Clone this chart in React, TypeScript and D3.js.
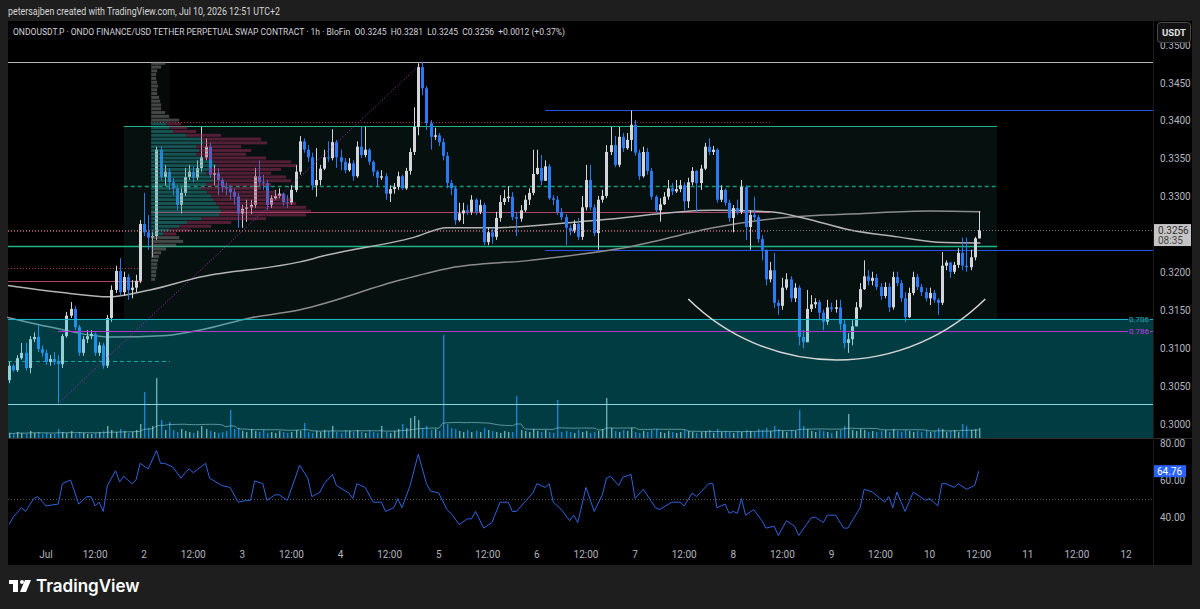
import React from 'react';
import * as d3 from 'd3';

const W = 1200, H = 609;
// candles: hourly, first candle = Jun 30 15:00 (hour -9 relative to Jul 1 00:00)
const START_HOUR = -9;
const firstOpen = 0.3058;
const closes = [
  .3077,.3071,.3087,.3094,.3074,.3112,.3115,.3099,.3094,
  .3082,.3086,.3082,.3079,.3116,.3143,.3152,.3128,.3094,.3112,
  .3116,.3119,.3094,.3104,.3077,.3140,.3177,.3202,.3174,.3194,
  .3177,.3180,.3189,.3264,.3253,.3246,.3248,.3362,.3326,.3333,
  .3319,.3311,.3289,.3305,.3326,.3333,.3325,.3338,.3352,.3366,
  .3329,.3331,.3322,.3313,.3311,.3306,.3300,.3278,.3284,.3286,
  .3289,.3327,.3319,.3318,.3289,.3298,.3301,.3304,.3293,.3292,
  .3309,.3333,.3373,.3362,.3352,.3315,.3322,.3337,.3352,.3351,
  .3372,.3352,.3346,.3335,.3344,.3327,.3366,.3355,.3362,.3346,
  .3333,.3325,.3327,.3304,.3310,.3313,.3327,.3311,.3334,.3359,
  .3392,.3471,.3443,.3397,.3379,.3381,.3372,.3354,.3318,.3311,
  .3269,.3278,.3282,.3280,.3296,.3280,.3289,.3240,.3253,.3247,
  .3272,.3293,.3298,.3300,.3273,.3271,.3282,.3296,.3305,.3330,
  .3338,.3321,.3340,.3298,.3296,.3280,.3273,.3259,.3255,.3264,
  .3247,.3286,.3322,.3286,.3252,.3296,.3301,.3359,.3368,.3342,
  .3379,.3364,.3375,.3395,.3358,.3327,.3359,.3334,.3300,.3282,
  .3290,.3300,.3311,.3307,.3310,.3315,.3294,.3319,.3334,.3318,
  .3337,.3366,.3359,.3362,.3296,.3309,.3292,.3272,.3285,.3280,
  .3313,.3260,.3276,.3273,.3244,.3230,.3191,.3203,.3160,.3156,
  .3180,.3191,.3166,.3180,.3115,.3108,.3152,.3158,.3161,.3147,
  .3135,.3154,.3152,.3154,.3132,.3107,.3112,.3129,.3154,.3178,
  .3195,.3189,.3193,.3181,.3169,.3181,.3154,.3194,.3186,.3166,
  .3141,.3173,.3194,.3181,.3174,.3166,.3173,.3164,.3160,.3209,
  .3213,.3201,.3210,.3226,.3209,.3207,.3220,.3245,.3256
];
const highs = [
  .3082,.3079,.3091,.3107,.3107,.3116,.3121,.3131,.3104,
  .3098,.3091,.3095,.3091,.3119,.3148,.3161,.3156,.3131,.3116,
  .3124,.3124,.3121,.3108,.3107,.3144,.3183,.3209,.3219,.3201,
  .3198,.3190,.3197,.3269,.3305,.3276,.3253,.3366,.3366,.3342,
  .3338,.3325,.3315,.3311,.3338,.3342,.3340,.3348,.3392,.3377,
  .3371,.3342,.3338,.3325,.3319,.3315,.3311,.3305,.3289,.3296,
  .3296,.3338,.3348,.3329,.3322,.3302,.3309,.3311,.3305,.3302,
  .3315,.3342,.3380,.3377,.3368,.3358,.3364,.3342,.3362,.3373,
  .3389,.3375,.3362,.3351,.3351,.3348,.3373,.3392,.3392,.3364,
  .3348,.3335,.3335,.3331,.3315,.3318,.3333,.3329,.3338,.3364,
  .3418,.3476,.3478,.3446,.3401,.3391,.3384,.3377,.3359,.3322,
  .3314,.3292,.3292,.3289,.3302,.3298,.3296,.3292,.3259,.3259,
  .3280,.3302,.3309,.3314,.3306,.3280,.3289,.3302,.3311,.3362,
  .3362,.3355,.3348,.3343,.3302,.3301,.3285,.3277,.3263,.3269,
  .3272,.3301,.3342,.3342,.3290,.3301,.3309,.3368,.3392,.3380,
  .3392,.3384,.3384,.3414,.3401,.3362,.3366,.3364,.3338,.3302,
  .3298,.3306,.3322,.3318,.3322,.3322,.3319,.3325,.3339,.3335,
  .3342,.3371,.3377,.3367,.3364,.3315,.3311,.3296,.3289,.3296,
  .3322,.3315,.3282,.3300,.3276,.3249,.3230,.3214,.3226,.3164,
  .3193,.3199,.3195,.3186,.3183,.3124,.3177,.3170,.3166,.3164,
  .3151,.3164,.3160,.3164,.3164,.3137,.3120,.3137,.3161,.3186,
  .3216,.3203,.3201,.3198,.3186,.3187,.3186,.3201,.3201,.3190,
  .3174,.3180,.3201,.3198,.3185,.3180,.3180,.3177,.3166,.3227,
  .3216,.3214,.3214,.3232,.3246,.3246,.3230,.3247,.3281
];
const lows = [
  .3054,.3069,.3069,.3085,.3071,.3067,.3108,.3095,.3089,
  .3078,.3077,.3078,.3027,.3074,.3114,.3140,.3124,.3090,.3090,
  .3107,.3112,.3090,.3090,.3073,.3074,.3135,.3173,.3170,.3169,
  .3164,.3166,.3174,.3186,.3248,.3230,.3220,.3243,.3322,.3314,
  .3309,.3302,.3282,.3278,.3301,.3322,.3319,.3322,.3333,.3348,
  .3325,.3315,.3302,.3306,.3302,.3296,.3289,.3259,.3259,.3267,
  .3277,.3285,.3314,.3309,.3282,.3285,.3296,.3298,.3288,.3285,
  .3289,.3306,.3329,.3358,.3346,.3309,.3300,.3315,.3335,.3346,
  .3348,.3338,.3335,.3331,.3333,.3321,.3325,.3351,.3352,.3342,
  .3327,.3314,.3322,.3296,.3293,.3304,.3309,.3309,.3309,.3329,
  .3355,.3381,.3434,.3388,.3362,.3375,.3367,.3348,.3311,.3302,
  .3263,.3267,.3264,.3276,.3276,.3276,.3277,.3236,.3236,.3238,
  .3243,.3267,.3289,.3293,.3269,.3248,.3267,.3280,.3289,.3302,
  .3329,.3315,.3322,.3296,.3289,.3276,.3269,.3236,.3249,.3252,
  .3243,.3243,.3282,.3282,.3248,.3230,.3292,.3298,.3355,.3339,
  .3339,.3359,.3362,.3360,.3354,.3322,.3325,.3329,.3296,.3278,
  .3267,.3289,.3296,.3302,.3305,.3306,.3282,.3285,.3315,.3280,
  .3309,.3335,.3355,.3355,.3292,.3293,.3288,.3267,.3253,.3276,
  .3277,.3243,.3230,.3269,.3239,.3216,.3183,.3187,.3153,.3144,
  .3151,.3177,.3161,.3161,.3104,.3100,.3108,.3148,.3153,.3137,
  .3124,.3131,.3148,.3147,.3124,.3100,.3094,.3104,.3131,.3151,
  .3177,.3183,.3183,.3177,.3164,.3166,.3148,.3151,.3182,.3161,
  .3135,.3140,.3170,.3177,.3169,.3162,.3157,.3160,.3144,.3157,
  .3203,.3193,.3198,.3206,.3203,.3201,.3203,.3216,.3245
];
const volumes = [
  5,4,6,5,4,7,5,6,4,
  5,4,4,9,6,5,7,4,6,5,
  4,4,5,6,7,12,8,6,9,7,
  5,6,8,14,46,10,12,60,18,8,
  16,8,6,9,7,6,5,7,12,9,
  7,6,5,6,7,28,9,10,7,6,
  9,7,6,8,5,6,5,7,6,5,
  6,8,7,15,6,5,7,6,8,7,
  12,6,5,8,7,6,8,6,5,7,
  6,5,12,6,5,7,9,14,10,20,
  22,18,10,12,8,9,7,103,14,10,
  9,7,6,8,6,7,6,10,8,7,
  6,5,7,6,6,42,8,7,6,9,
  7,6,8,6,5,38,6,7,6,5,
  8,6,7,5,6,7,9,40,10,7,
  6,8,7,10,6,5,7,6,8,9,
  6,5,7,6,5,6,8,7,6,5,
  6,7,8,5,9,6,7,6,5,7,
  6,8,7,6,9,8,10,7,12,9,
  7,6,8,7,28,12,9,7,6,8,
  7,6,5,7,8,12,24,8,7,9,
  8,6,7,6,7,8,6,9,7,6,
  8,7,6,7,6,8,6,7,10,9,
  6,7,8,6,14,12,8,9,10
];
const rsiPoints: [number, number][] = [
  [-9,36],[-8,40],[-6,45],[-5,43],[-3,50],[-2,51],[0,46],[3,47],[4,58],[6,60],[8,47],[10,51],[11,51],[12,46],[13,48],[14,43],[15,57],[17,65],[18,59],[19,62],[21,58],[22,60],[23,69],[25,66],[27,76],[28,69],[29,69],[31,67],[33,61],[34,64],[35,66],[36,64],[39,69],[40,61],[43,57],[45,56],[47,48],[49,49],[50,49],[51,59.5],[53,58],[54,49],[56,52],[57,52],[59,49],[62,68],[64,61],[65,51],[67,53.5],[68,58],[70,63],[71,57],[74,53],[75,50],[76,58],[78,56],[80,48],[82,48],[83,43],[85,45],[86,50],[87,45],[89,57],[91,74],[93,58],[94,54],[96,53],[98,44],[99,42],[101,36],[103,39],[104,39],[105,43],[107,34],[109,37],[111,48],[113,48],[114,43],[115,43],[117,48],[119,53],[120,58],[122,56],[123,58],[124,48],[126,44],[128,38],[129,41],[130,37],[132,56],[134,43],[136,52],[137,61],[138,62],[140,57],[141,61.5],[143,63],[144,50],[146,55],[149,45],[150,44],[153,48],[155,48],[156,46],[158,53],[159,51],[162,58],[163,58],[164,45],[166,47],[167,42],[168,43],[169,42],[170,50],[171,41],[173,44],[175,38],[176,34],[178,35],[179,30],[181,38],[183,35],[184,30],[187,39.5],[188,40],[190,37],[191,41],[193,41],[195,34],[196,34],[199,45],[200,55],[202,53.5],[205,48],[206,51],[207,45],[208,53.5],[210,43],[212,53.5],[215,49],[216,50],[218,46],[219,58],[220,58],[222,56],[223,58],[225,55],[227,57],[228,64.76]
];
const fastMA: [number, number][] = [
  [-9.3,.3183],[3.4,.3174],[15.6,.3168],[25.4,.3177],[37.7,.3194],[62.1,.3214],[68.7,.3223],[89.7,.3246],[98,.3259],[108.6,.3259],[134.7,.3269],[163.1,.3282],[177,.3280],[185.1,.3272],[196.6,.3256],[208.1,.3247],[217.8,.3240],[228.4,.3239]
];
const slowMA: [number, number][] = [
  [-9.5,.3141],[1,.3128],[15.6,.3115],[29.6,.3117],[37.7,.3124],[49.9,.3140],[62.1,.3151],[86.6,.3190],[98.8,.3206],[118.3,.3216],[142.8,.3234],[163.1,.3259],[179.5,.3272],[199.8,.3278],[216.1,.3281],[228.4,.3280]
];
// volume profile: rows of 0.0005 from 0.3478 downwards
const profileTopPrice = 0.3478;
const profileStep = 0.0005;
const profileStartHour = 25.7;
const profileTotal = [14,10,6,5,5,6,7,6,6,8,9,10,10,14,18,28,
  30,36,45,70,110,116,90,100,95,115,140,145,130,120,135,140,120,110,125,135,140,145,155,160,155,115,80,60,40,25,
  28,32,25,15,10,8,7,6,6,5,5,4];
const profileUp = [0,0,0,0,0,0,0,0,0,0,0,0,0,0,0,0,
  15,18,22,35,50,52,45,48,45,52,62,65,58,55,60,62,55,50,56,60,62,65,68,70,68,50,36,28,18,12,
  0,0,0,0,0,0,0,0,0,0,0,0];
const vaFirst = 16, vaLast = 45;

const priceTicks = [0.300,0.305,0.310,0.315,0.320,0.325,0.330,0.335,0.340,0.345,0.350];
const timeTickHours = [0,12,24,36,48,60,72,84,96,108,120,132,144,156,168,180,192,204,216,228,240,252,264];
const timeTickLabels = ['Jul','12:00','2','12:00','3','12:00','4','12:00','5','12:00','6','12:00','7','12:00','8','12:00','9','12:00','10','12:00','11','12:00','12'];
const rsiTicks = [40, 60, 80];

// levels
const topLine = 0.3478;
const blueUpper = 0.3414, blueLower = 0.3230, blueStart = 122;
const greenUpper = 0.3393, greenLower = 0.3235, greenMid = 0.3314, greenStart = 19, greenEnd = 232.5;
const redTopDotted = 0.3399, pocLevel = 0.3280, redVal = 0.3255, profEnd = 177;
const leftRedDotted = 0.3206, leftRedSolid = 0.3189, leftEnd = 23.5;
const leftGreenDashed = 0.3083, leftGreenEnd = 30.3;
const fib706 = 0.3139, fib786 = 0.3123, fib1 = 0.3027, fibStart = 2.9;
const diagFrom: [number, number] = [2.9, 0.3027], diagTo: [number, number] = [92.2, 0.3478];
const arcLeft: [number, number] = [157, 0.3165], arcBottom: [number, number] = [193.2, 0.30846], arcRight: [number, number] = [229.6, 0.3165];
const lastPrice = 0.3256, lastRsi = 64.76;

const UP = '#d2d5d9', DOWN = '#2b7af3';

export default function App() {
  const x = d3.scaleLinear().domain([-9.29, 270.6]).range([8, 1153]);
  const y = d3.scaleLinear().domain([0.3, 0.345]).range([424.1, 83]);
  const yr = d3.scaleLinear().domain([40, 80]).range([517, 443]);
  const yv = d3.scaleLinear().domain([0, 100]).range([438, 338]);
  const pw = d3.scaleLinear().domain([0, 160]).range([0, 160]);
  const left = 8, right = 1153, mainTop = 21, mainBottom = 438;

  const candles = closes.map((c, i) => {
    const o = i === 0 ? firstOpen : closes[i - 1];
    return { h: START_HOUR + i, o, c, hi: Math.max(highs[i], o, c), lo: Math.min(lows[i], o, c) };
  });
  const volMA = volumes.map((_, i) => {
    const s = volumes.slice(Math.max(0, i - 19), i + 1);
    return [START_HOUR + i, d3.mean(s) as number] as [number, number];
  });

  const maLine = d3.line<[number, number]>().x(d => x(d[0])).y(d => y(d[1])).curve(d3.curveMonotoneX);
  const rsiLine = d3.line<[number, number]>().x(d => x(d[0])).y(d => yr(d[1]));
  const volLine = d3.line<[number, number]>().x(d => x(d[0])).y(d => yv(d[1])).curve(d3.curveMonotoneX);

  // arc through three points
  const P1 = [x(arcLeft[0]), y(arcLeft[1])], P2 = [x(arcBottom[0]), y(arcBottom[1])], P3 = [x(arcRight[0]), y(arcRight[1])];
  const ax = P1[0], ay = P1[1], bx = P2[0], by = P2[1], cx = P3[0], cy = P3[1];
  const dd = 2 * (ax * (by - cy) + bx * (cy - ay) + cx * (ay - by));
  const ux = ((ax * ax + ay * ay) * (by - cy) + (bx * bx + by * by) * (cy - ay) + (cx * cx + cy * cy) * (ay - by)) / dd;
  const uy = ((ax * ax + ay * ay) * (cx - bx) + (bx * bx + by * by) * (ax - cx) + (cx * cx + cy * cy) * (bx - ax)) / dd;
  const R = Math.hypot(ax - ux, ay - uy);
  const arcPath = `M${ax},${ay} A${R},${R} 0 0 0 ${cx},${cy}`;

  const hline = (p: number, x1: number, x2: number, stroke: string, extra: any = {}) => (
    <line x1={x1} x2={x2} y1={Math.round(y(p)) + 0.5} y2={Math.round(y(p)) + 0.5} stroke={stroke} strokeWidth={1} {...extra} />
  );

  const cw = 3;
  const font = 'Roboto, "DejaVu Sans", sans-serif';
  const py = (p: number) => y(p);
  const labelTop = y(lastPrice) - 6, labelBottom = y(lastPrice) + 16;
  const visiblePriceTicks = priceTicks.filter(p => y(p) + 4 < labelTop || y(p) - 4 > labelBottom);

  return (
    <svg width={W} height={H} style={{ position: 'absolute', left: 0, top: 0 }} xmlns="http://www.w3.org/2000/svg">
      <rect x={0} y={0} width={W} height={H} fill="#1e1e1e" />
      <rect x={left} y={mainTop} width={1192 - left} height={565 - mainTop} fill="#000" />
      {/* session box */}
      <rect x={x(greenStart)} y={py(greenUpper)} width={x(greenEnd) - x(greenStart)} height={py(fib706) - py(greenUpper)} fill="#06100e" />
      <rect x={x(profileStartHour)} y={py(topLine)} width={x(30.3) - x(profileStartHour)} height={py(greenUpper) - py(topLine)} fill="#050a09" />

      {/* horizontal levels */}
      {hline(topLine, left, right, '#b8b8b8')}
      {hline(blueUpper, x(blueStart), right, '#2653e8')}
      {hline(blueLower, x(blueStart), right, '#2653e8')}
      {hline(redTopDotted, x(profileStartHour), x(profEnd), '#a8395c', { strokeDasharray: '1 2' })}
      {hline(greenUpper, x(greenStart), x(greenEnd), '#1fb385')}
      {hline(greenMid, x(greenStart), x(greenEnd), '#139a74', { strokeDasharray: '4 3', strokeWidth: 1.5 })}
      {hline(greenLower, left, x(greenEnd), '#1fb385', { strokeWidth: 1.3 })}
      {hline(pocLevel, x(profileStartHour), x(profEnd), '#b2446c', { strokeWidth: 1.2 })}
      {hline(redVal, left, x(profEnd), '#a8395c', { strokeDasharray: '1 2' })}
      {hline(leftRedDotted, left, x(leftEnd), '#a8395c', { strokeDasharray: '1 2' })}
      {hline(leftRedSolid, left, x(leftEnd), '#b2446c', { strokeWidth: 1.2 })}
      {hline(leftGreenDashed, left, x(leftGreenEnd), '#19a37c', { strokeDasharray: '4 3' })}

      {/* moving averages */}
      <path d={maLine(slowMA) || ''} fill="none" stroke="#8c8c8c" strokeWidth={1.5} />
      <path d={maLine(fastMA) || ''} fill="none" stroke="#b4b4b4" strokeWidth={1.5} />

      {/* candles */}
      {candles.map((d, i) => {
        const col = d.c >= d.o ? UP : DOWN;
        const cx0 = x(d.h);
        const top = y(Math.max(d.o, d.c)), bot = y(Math.min(d.o, d.c));
        return (
          <g key={i}>
            <line x1={Math.round(cx0) + 0.5} x2={Math.round(cx0) + 0.5} y1={y(d.hi)} y2={y(d.lo)} stroke={col} strokeWidth={1} />
            <rect x={Math.round(cx0) - 1} y={top} width={cw} height={Math.max(1, bot - top)} fill={col} />
          </g>
        );
      })}

      {/* volume */}
      {volumes.map((v, i) => {
        const d = candles[i];
        const col = d.c >= d.o ? 'rgba(200,215,225,0.75)' : 'rgba(43,122,243,0.85)';
        return <rect key={'v' + i} x={Math.round(x(d.h))} y={yv(v)} width={1.4} height={yv(0) - yv(v)} fill={col} />;
      })}
      <path d={volLine(volMA) || ''} fill="none" stroke="rgba(210,210,210,0.6)" strokeWidth={1} />

      {/* volume profile */}
      {profileTotal.map((t, k) => {
        const yTop = y(profileTopPrice - profileStep * k);
        const yBot = y(profileTopPrice - profileStep * (k + 1));
        const hgt = Math.max(1, yBot - yTop - 0.8);
        const x0 = x(profileStartHour);
        if (k < vaFirst || k > vaLast) {
          return <rect key={'p' + k} x={x0} y={yTop} width={pw(t)} height={hgt} fill="rgba(120,120,120,0.55)" />;
        }
        return (
          <g key={'p' + k}>
            <rect x={x0} y={yTop} width={pw(profileUp[k])} height={hgt} fill="rgba(38,150,150,0.5)" />
            <rect x={x0 + pw(profileUp[k])} y={yTop} width={pw(t - profileUp[k])} height={hgt} fill="rgba(160,45,95,0.5)" />
          </g>
        );
      })}

      {/* teal fib zone */}
      <rect x={left} y={py(fib706)} width={right - left} height={mainBottom - py(fib706)} fill="rgba(0,200,215,0.3)" />
      {hline(fib706, left, 1128, '#1cb3c4')}
      {hline(fib786, x(fibStart), 1128, '#b534d0')}
      {hline(fib1, left, right, '#86d6dc')}
      <line x1={1150} x2={right} y1={Math.round(py(fib706)) + 0.5} y2={Math.round(py(fib706)) + 0.5} stroke="#1cb3c4" />
      <line x1={1150} x2={right} y1={Math.round(py(fib786)) + 0.5} y2={Math.round(py(fib786)) + 0.5} stroke="#b534d0" />
      <text x={1149} y={py(fib706) + 3} textAnchor="end" fontSize={8} fill="#1cb3c4" fontFamily={font}>0.706</text>
      <text x={1149} y={py(fib786) + 3} textAnchor="end" fontSize={8} fill="#c040e0" fontFamily={font}>0.786</text>

      {/* annotations */}
      <line x1={x(diagFrom[0])} y1={y(diagFrom[1])} x2={x(diagTo[0])} y2={y(diagTo[1])} stroke="#b030c8" strokeWidth={1} strokeDasharray="1 2" />
      <path d={arcPath} fill="none" stroke="#d8d8d8" strokeWidth={1.5} />

      {/* last price line */}
      {hline(lastPrice, left, right, '#777', { strokeDasharray: '1 2' })}

      {/* pane separators */}
      <line x1={left} x2={1192} y1={438.5} y2={438.5} stroke="#2e2e2e" />
      <line x1={right + 0.5} x2={right + 0.5} y1={mainTop} y2={565} stroke="#1a1a1a" />

      {/* price axis */}
      {visiblePriceTicks.map(p => (
        <text key={'pt' + p} x={1160} y={y(p) + 3.5} fontSize={10} fill="#b2b5be" fontFamily={font}>{p.toFixed(4)}</text>
      ))}
      <rect x={1157.5} y={22.5} width={33} height={20} rx={3} fill="#121212" stroke="#4a4a4a" />
      <text x={1174} y={36} textAnchor="middle" fontSize={9.5} fontWeight={700} fill="#e0e0e0" fontFamily={font}>USDT</text>
      <rect x={1154} y={labelTop} width={37} height={labelBottom - labelTop} fill="#c4c4c4" />
      <text x={1158} y={y(lastPrice) + 3.5} fontSize={10} fill="#333" fontFamily={font}>{lastPrice.toFixed(4)}</text>
      <text x={1158} y={y(lastPrice) + 14} fontSize={10} fill="#444" fontFamily={font}>08:35</text>

      {/* RSI pane */}
      <line x1={left} x2={right} y1={Math.round(yr(50)) + 0.5} y2={Math.round(yr(50)) + 0.5} stroke="#555" strokeDasharray="1 2" />
      <path d={rsiLine(rsiPoints) || ''} fill="none" stroke="#2f63dc" strokeWidth={1} />
      {rsiTicks.map(r => (
        <text key={'rt' + r} x={1160} y={yr(r) + 3.5} fontSize={10} fill="#b2b5be" fontFamily={font}>{r.toFixed(2)}</text>
      ))}
      <rect x={1154} y={yr(lastRsi) - 6} width={32} height={12} fill="#2962ff" />
      <text x={1157} y={yr(lastRsi) + 3.5} fontSize={10} fill="#fff" fontFamily={font}>{lastRsi.toFixed(2)}</text>

      {/* time axis */}
      {timeTickHours.map((h, i) => (
        <text key={'tt' + i} x={x(h)} y={558} textAnchor="middle" fontSize={10} fill="#b2b5be" fontFamily={font}>{timeTickLabels[i]}</text>
      ))}

      {/* header and title */}
      <text x={8} y={15} fontSize={10.5} fill="#d6d6d6" fontFamily={font} textLength={272} lengthAdjust="spacingAndGlyphs">petersajben created with TradingView.com, Jul 10, 2026 12:51 UTC+2</text>
      <text x={13} y={35} fontSize={9.5} fill="#d1d4dc" fontFamily={font} textLength={552} lengthAdjust="spacingAndGlyphs" style={{ whiteSpace: 'pre' }}>ONDOUSDT.P · ONDO FINANCE/USD TETHER PERPETUAL SWAP CONTRACT · 1h · BloFin  O0.3245  H0.3281  L0.3245  C0.3256  +0.0012 (+0.37%)</text>

      {/* logo */}
      <g fill="#ffffff">
        <rect x={9} y={580} width={9} height={4} />
        <rect x={13} y={580} width={5} height={12} />
        <circle cx={22} cy={582} r={2} />
        <polygon points="25,580 31,580 26,592 20,592" />
      </g>
      <text x={36} y={592} fontSize={17} fontWeight={600} fill="#ffffff" fontFamily='Inter, Roboto, sans-serif'>TradingView</text>
    </svg>
  );
}
